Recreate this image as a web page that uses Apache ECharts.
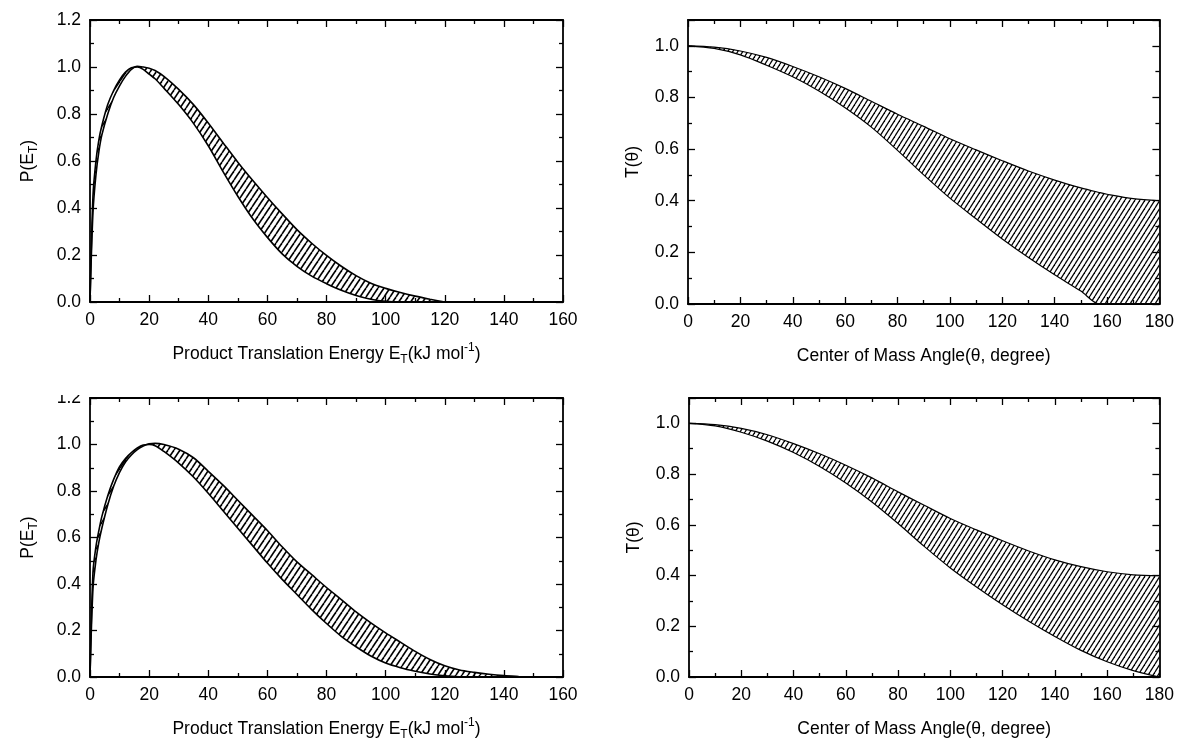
<!DOCTYPE html>
<html>
<head>
<meta charset="utf-8">
<script src="https://cdn.jsdelivr.net/npm/echarts@6/dist/echarts.min.js"></script>
<style>
html, body { margin: 0; background: #fff; }
#chart { width: 1177px; height: 742px; }
</style>
</head>
<body>
<div id="chart"></div>
<script>
// upper left: P(E_T), two bounding curves
const energyTop = [0, 1, 2, 3, 4, 6, 8, 10, 12, 14, 16, 18, 20, 22, 25, 30, 35, 40, 45, 50, 55, 60, 65, 70, 75, 80, 85, 90, 95, 100, 105, 110, 115, 120]
const petTopFast = [0, 0.45, 0.60, 0.69, 0.75, 0.84, 0.90, 0.945, 0.978, 0.997, 1.0, 0.99, 0.97, 0.95, 0.91, 0.84, 0.76, 0.665, 0.555, 0.45, 0.355, 0.275, 0.205, 0.152, 0.11, 0.078, 0.05, 0.028, 0.012, 0.003, 0, 0, 0, 0]
const petTopSlow = [0, 0.38, 0.54, 0.64, 0.71, 0.80, 0.87, 0.92, 0.96, 0.99, 1.003, 1.0, 0.995, 0.985, 0.96, 0.905, 0.84, 0.762, 0.678, 0.595, 0.518, 0.445, 0.375, 0.308, 0.25, 0.198, 0.152, 0.112, 0.08, 0.058, 0.04, 0.025, 0.012, 0]

// lower left: P(E_T)
const energyBottom = [0, 1, 2, 3, 4, 6, 8, 10, 12, 14, 16, 18, 20, 22, 25, 30, 35, 40, 45, 50, 55, 60, 65, 70, 75, 80, 85, 90, 95, 100, 105, 110, 115, 120, 125, 130, 135, 140, 145, 148]
const petBottomFast = [0, 0.45, 0.56, 0.63, 0.69, 0.78, 0.85, 0.905, 0.94, 0.965, 0.985, 0.998, 1.0, 0.995, 0.97, 0.92, 0.86, 0.79, 0.715, 0.64, 0.565, 0.49, 0.42, 0.355, 0.29, 0.23, 0.175, 0.13, 0.09, 0.06, 0.04, 0.025, 0.013, 0.005, 0.001, 0, 0, 0, 0, 0]
const petBottomSlow = [0, 0.38, 0.5, 0.58, 0.64, 0.74, 0.82, 0.88, 0.925, 0.955, 0.978, 0.993, 1.003, 1.005, 1.0, 0.98, 0.943, 0.885, 0.825, 0.76, 0.695, 0.63, 0.56, 0.495, 0.44, 0.385, 0.333, 0.28, 0.233, 0.19, 0.15, 0.11, 0.075, 0.048, 0.03, 0.02, 0.012, 0.006, 0.002, 0]

// upper right: T(theta)
const angleTop = [0, 10, 20, 30, 40, 50, 60, 70, 80, 90, 100, 110, 120, 130, 140, 150, 157, 160, 170, 180]
const tTopHigh = [1.0, 0.995, 0.98, 0.955, 0.92, 0.88, 0.835, 0.785, 0.735, 0.688, 0.64, 0.597, 0.555, 0.515, 0.48, 0.45, 0.432, 0.425, 0.408, 0.40]
const tTopLow = [1.0, 0.99, 0.965, 0.925, 0.88, 0.825, 0.76, 0.685, 0.595, 0.5, 0.41, 0.33, 0.252, 0.18, 0.113, 0.05, 0, 0, 0, 0]

// lower right: T(theta)
const angleBottom = [0, 10, 20, 30, 40, 50, 60, 70, 80, 90, 100, 110, 120, 130, 140, 150, 160, 170, 180]
const tBottomHigh = [1.0, 0.995, 0.98, 0.955, 0.92, 0.88, 0.835, 0.785, 0.73, 0.677, 0.625, 0.58, 0.537, 0.497, 0.462, 0.435, 0.415, 0.403, 0.40]
const tBottomLow = [1.0, 0.99, 0.965, 0.93, 0.885, 0.83, 0.765, 0.69, 0.605, 0.515, 0.43, 0.355, 0.285, 0.22, 0.16, 0.105, 0.06, 0.025, 0]

const font = "'Liberation Sans', Arial, sans-serif"

function hatch (w, h, lw) {
  const c = document.createElement('canvas')
  c.width = w
  c.height = h
  const ctx = c.getContext('2d')
  ctx.strokeStyle = '#000'
  ctx.lineWidth = lw
  for (let k = -1; k <= 1; k++) {
    ctx.beginPath()
    ctx.moveTo(k * w, h)
    ctx.lineTo(k * w + w, 0)
    ctx.stroke()
  }
  return c
}

const richText = {
  sub: { fontSize: 12, fontFamily: font, verticalAlign: 'bottom', lineHeight: 10, color: '#000' },
  sup: { fontSize: 12, fontFamily: font, verticalAlign: 'top', lineHeight: 10, color: '#000' }
}

function xAxisConf (grid, max, pos, name) {
  return {
    type: 'value',
    gridIndex: grid,
    min: 0,
    max: max,
    interval: 20,
    position: pos,
    z: 10,
    name: pos === 'bottom' ? name : '',
    nameLocation: 'middle',
    nameGap: 40,
    nameTextStyle: { fontSize: 17.5, fontFamily: font, color: '#000', lineHeight: 24, rich: richText },
    axisLine: { show: true, onZero: false, lineStyle: { color: '#000', width: 1.8 } },
    axisTick: { inside: true, length: 7, lineStyle: { color: '#000', width: 1.3 } },
    minorTick: { show: true, splitNumber: 2, length: 4, lineStyle: { color: '#000', width: 1.3 } },
    axisLabel: { show: pos === 'bottom', fontSize: 17.5, fontFamily: font, color: '#000', margin: 9 },
    splitLine: { show: false }
  }
}

function yAxisConf (grid, max, pos, name) {
  return {
    type: 'value',
    gridIndex: grid,
    min: 0,
    max: max,
    interval: 0.2,
    position: pos,
    z: 10,
    name: pos === 'left' ? name : '',
    nameLocation: 'middle',
    nameGap: max > 1.15 ? 50 : 43,
    nameTextStyle: { fontSize: 17.5, fontFamily: font, color: '#000', lineHeight: 24, rich: richText },
    axisLine: { show: true, onZero: false, lineStyle: { color: '#000', width: 1.8 } },
    axisTick: { inside: true, length: 7, lineStyle: { color: '#000', width: 1.3 } },
    minorTick: { show: true, splitNumber: 2, length: 4, lineStyle: { color: '#000', width: 1.3 } },
    axisLabel: { show: pos === 'left', fontSize: 17.5, fontFamily: font, color: '#000', margin: 9,
      showMaxLabel: max > 1.15, formatter: v => v.toFixed(1) },
    splitLine: { show: false }
  }
}

// hatched band: patterned area under the upper bound, white area under the lower bound, then both curves
function bandSeries (idx, xs, a, b, pattern, lw) {
  const hi = xs.map((x, i) => [x, Math.max(a[i], b[i])])
  const lo = xs.map((x, i) => [x, Math.min(a[i], b[i])])
  const common = { type: 'line', xAxisIndex: idx * 2, yAxisIndex: idx * 2, symbol: 'none', smooth: 0.3, silent: true, animation: false }
  return [
    Object.assign({}, common, { z: 1, data: hi, lineStyle: { width: 0 },
      areaStyle: { color: { image: pattern, repeat: 'repeat' }, opacity: 1, origin: 'start' } }),
    Object.assign({}, common, { z: 2, data: lo, lineStyle: { width: 0 },
      areaStyle: { color: '#fff', opacity: 1, origin: 'start' } }),
    Object.assign({}, common, { z: 3, data: xs.map((x, i) => [x, a[i]]), lineStyle: { color: '#000', width: lw } }),
    Object.assign({}, common, { z: 3, data: xs.map((x, i) => [x, b[i]]), lineStyle: { color: '#000', width: lw } })
  ]
}

const chart = echarts.init(document.getElementById('chart'))
const petName = 'P(E{sub|T})'
const energyName = 'Product Translation Energy E{sub|T}(kJ mol{sup|-1})'
const angleName = 'Center of Mass Angle(θ, degree)'
const tName = 'T(θ)'
const leftHatch = hatch(6, 9, 1.6)
const rightHatch = hatch(5, 8, 1.3)

chart.setOption({
  backgroundColor: '#fff',
  grid: [
    { left: 90, top: 20, width: 473, height: 282 },
    { left: 688, top: 20, width: 472, height: 284 },
    { left: 90, top: 398, width: 473, height: 281 },
    { left: 689, top: 398, width: 472, height: 282 }
  ],
  xAxis: [
    xAxisConf(0, 160, 'bottom', energyName), xAxisConf(0, 160, 'top'),
    xAxisConf(1, 180, 'bottom', angleName), xAxisConf(1, 180, 'top'),
    xAxisConf(2, 160, 'bottom', energyName), xAxisConf(2, 160, 'top'),
    xAxisConf(3, 180, 'bottom', angleName), xAxisConf(3, 180, 'top')
  ],
  yAxis: [
    yAxisConf(0, 1.2, 'left', petName), yAxisConf(0, 1.2, 'right'),
    yAxisConf(1, 1.1, 'left', tName), yAxisConf(1, 1.1, 'right'),
    yAxisConf(2, 1.2, 'left', petName), yAxisConf(2, 1.2, 'right'),
    yAxisConf(3, 1.1, 'left', tName), yAxisConf(3, 1.1, 'right')
  ],
  series: [].concat(
    bandSeries(0, energyTop, petTopFast, petTopSlow, leftHatch, 1.6),
    bandSeries(1, angleTop, tTopHigh, tTopLow, rightHatch, 1.2),
    bandSeries(2, energyBottom, petBottomFast, petBottomSlow, leftHatch, 1.6),
    bandSeries(3, angleBottom, tBottomHigh, tBottomLow, rightHatch, 1.2)
  ),
  graphic: [
    // the top of the lower-left "1.2" label is cut off in the original figure
    { type: 'rect', left: 52, top: 378, shape: { width: 35, height: 17 }, style: { fill: '#fff' }, z: 100 }
  ]
})
</script>
</body>
</html>
